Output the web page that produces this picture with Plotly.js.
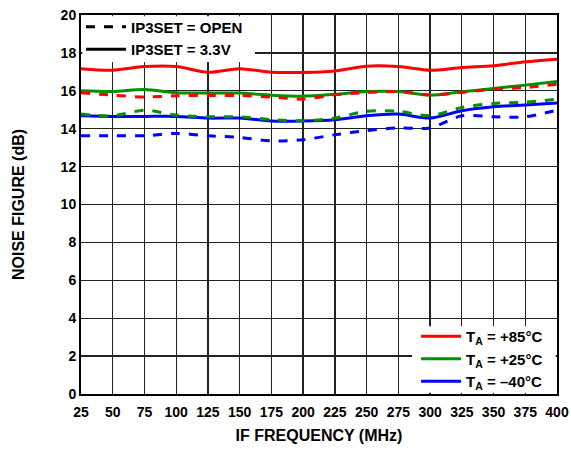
<!DOCTYPE html>
<html><head><meta charset="utf-8">
<script src="https://cdn.plot.ly/plotly-3.0.1.min.js"></script>
<style>html,body{margin:0;padding:0;background:#fff}#chart{width:571px;height:449px}</style>
</head><body><div id="chart"></div>
<script>
const freq = [25,50,75,100,125,150,175,200,225,250,275,300,325,350,375,400];
const red33   = [17.17,17.09,17.28,17.28,16.98,17.17,16.98,16.97,17.05,17.30,17.28,17.08,17.23,17.32,17.53,17.67];
const green33 = [16.00,15.96,16.07,15.90,15.88,15.88,15.77,15.72,15.82,15.96,15.96,15.77,15.95,16.12,16.30,16.49];
const blue33  = [14.68,14.65,14.65,14.65,14.56,14.56,14.40,14.40,14.47,14.68,14.77,14.56,14.95,15.16,15.25,15.35];
const redOpen   = [15.90,15.77,15.67,15.74,15.75,15.75,15.67,15.56,15.79,15.91,15.96,15.79,15.91,16.09,16.17,16.35];
const greenOpen = [14.77,14.68,14.98,14.72,14.63,14.63,14.48,14.42,14.56,14.92,14.92,14.68,15.12,15.33,15.40,15.56];
const blueOpen  = [13.63,13.63,13.63,13.75,13.63,13.54,13.36,13.42,13.68,13.90,14.04,14.04,14.68,14.63,14.63,14.98];
const xTicks = [25,50,75,100,125,150,175,200,225,250,275,300,325,350,375,400];
const yTicks = [0,2,4,6,8,10,12,14,16,18,20];

const RED='#ff0000', GREEN='#009000', BLUE='#0000ff';
function tr(y,color,dash){return {x:freq,y:y,type:'scatter',mode:'lines',showlegend:false,
  line:{color:color,width:3,dash:dash,shape:'spline',smoothing:0.8},hoverinfo:'skip'};}
const data = [
  tr(red33,RED,'solid'), tr(green33,GREEN,'solid'), tr(blue33,BLUE,'solid'),
  tr(redOpen,RED,'dash'), tr(greenOpen,GREEN,'dash'), tr(blueOpen,BLUE,'dash'),
  {x:[null],y:[null],type:'scatter',mode:'lines',name:'IP3SET = OPEN',line:{color:'#000',width:3,dash:'dash'},legend:'legend'},
  {x:[null],y:[null],type:'scatter',mode:'lines',name:'IP3SET = 3.3V',line:{color:'#000',width:3},legend:'legend'},
  {x:[null],y:[null],type:'scatter',mode:'lines',name:'T<sub>A</sub> = +85°C',line:{color:RED,width:3},legend:'legend2'},
  {x:[null],y:[null],type:'scatter',mode:'lines',name:'T<sub>A</sub> = +25°C',line:{color:GREEN,width:3},legend:'legend2'},
  {x:[null],y:[null],type:'scatter',mode:'lines',name:'T<sub>A</sub> = –40°C',line:{color:BLUE,width:3},legend:'legend2'}
];
const font = {family:'"Liberation Sans", Arial, sans-serif', size:14, color:'#000', weight:'bold'};
const layout = {
  width:571, height:449,
  margin:{l:81,r:14,t:14,b:55},
  paper_bgcolor:'#fff', plot_bgcolor:'#fff',
  font:font,
  showlegend:true,
  xaxis:{range:[25,400], tickvals:xTicks, ticktext:xTicks.map(String), showgrid:true, gridcolor:'#222', gridwidth:1.3,
    showline:true, mirror:true, linecolor:'#000', linewidth:2, ticks:'', zeroline:false, ticklabelstandoff:4,
    tickfont:{...font, size:14}, title:{text:'IF FREQUENCY (MHz)', font:{...font, size:16}, standoff:11}},
  yaxis:{range:[0,20], tickvals:yTicks, showgrid:true, gridcolor:'#222', gridwidth:1.3,
    showline:true, mirror:true, linecolor:'#000', linewidth:2, ticks:'', zeroline:false,
    tickfont:{...font, size:14}, title:{text:'NOISE FIGURE (dB)', font:{...font, size:16}, standoff:32}},
  shapes:[
    {type:'rect', xref:'paper', yref:'paper', x0:0.0028, x1:0.3655, y0:0.8763, y1:0.9965, layer:'above', fillcolor:'#fff', line:{width:0}},
    {type:'rect', xref:'paper', yref:'paper', x0:0.6954, x1:0.9972, y0:0.0035, y1:0.179, layer:'above', fillcolor:'#fff', line:{width:0}}
  ],
  legend:{x:0, y:1.009, xanchor:'left', yanchor:'top', bgcolor:'rgba(0,0,0,0)', borderwidth:0,
    font:{...font, size:15}, tracegroupgap:0, itemwidth:40},
  legend2:{x:0.704, y:-0.0105, xanchor:'left', yanchor:'bottom', bgcolor:'rgba(0,0,0,0)', borderwidth:0,
    font:{...font, size:15}, tracegroupgap:0, itemwidth:40}
};
Plotly.newPlot('chart', data, layout, {displayModeBar:false, staticPlot:true});
</script></body></html>
